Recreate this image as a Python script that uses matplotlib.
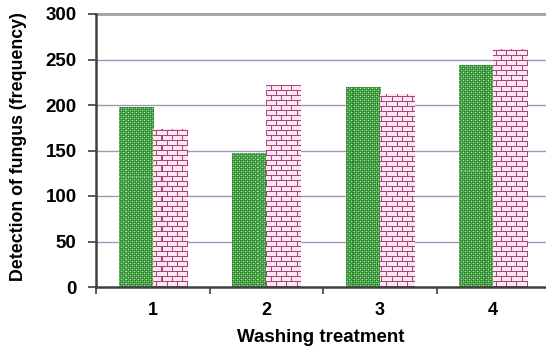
import numpy as np
import matplotlib
matplotlib.use("Agg")
import matplotlib.pyplot as plt
from matplotlib.ticker import FixedLocator, NullFormatter

# data
treatments = ["1", "2", "3", "4"]
series_a = [198, 147, 220, 244]   # green, dotted
series_b = [174, 222, 212, 262]   # pink, brick
y_ticks = [0, 50, 100, 150, 200, 250, 300]

plt.rcParams["font.family"] = ["Liberation Sans", "DejaVu Sans"]
plt.rcParams["font.weight"] = "bold"

W, H = 546, 349
fig = plt.figure(figsize=(W / 100, H / 100), dpi=100)
ax_l, ax_r, ax_t, ax_b = 96, 546, 14, 287
ax = fig.add_axes([ax_l / W, (H - ax_b) / H, (ax_r - ax_l) / W, (ax_b - ax_t) / H])

cat_px = 113.5
xlim = (0.5, 0.5 + (ax_r - ax_l) / cat_px)
ylim = (0, 300)
ax.set_xlim(*xlim)
ax.set_ylim(*ylim)

# textures in axes pixel space
pw, ph = ax_r - ax_l, ax_b - ax_t
yy, xx = np.mgrid[0:ph, 0:pw]

# green dotted texture
green = np.zeros((ph, pw, 3))
dark = np.array([0x2a, 0x7a, 0x2a]) / 255
mid = np.array([0x50, 0xa8, 0x50]) / 255
light = np.array([0x96, 0xd6, 0x96]) / 255
green[:] = mid
green[((xx + yy) % 2 == 0) & (yy % 2 == 0)] = dark
green[((xx % 4) == 1) & ((yy % 4) == 1)] = light
green[((xx % 4) == 3) & ((yy % 4) == 3)] = light

# brick texture
brick = np.zeros((ph, pw, 3))
face = np.array([0xfd, 0xe6, 0xf2]) / 255
line = np.array([0xa0, 0x48, 0x78]) / 255
brick[:] = face
row = (ph - 1 - yy) // 5
brick[(ph - 1 - yy) % 5 == 0] = line
shift = (row % 2) * 5
brick[((xx + shift) % 10 == 0)] = line

width = 0.3
x = np.arange(1, len(treatments) + 1)
bars_a = ax.bar(x - width / 2, series_a, width, color="none", edgecolor="none", zorder=3)
bars_b = ax.bar(x + width / 2, series_b, width, color="none", edgecolor="none", zorder=3)

for bars, tex in [(bars_a, green), (bars_b, brick)]:
    for b in bars:
        im = ax.imshow(tex, extent=(xlim[0], xlim[1], ylim[0], ylim[1]),
                       origin="upper", aspect="auto", interpolation="nearest", zorder=3)
        im.set_clip_path(b)

ax.set_xlim(*xlim)
ax.set_ylim(*ylim)

# grid
for v in y_ticks[1:-1]:
    ax.axhline(v, color="#9a9ab8", lw=1.0, zorder=1)
ax.axhline(300, color="#a0a0a0", lw=2.0, zorder=1, clip_on=False)

for s in ["top", "right"]:
    ax.spines[s].set_visible(False)
ax.spines["left"].set_color("#404040")
ax.spines["left"].set_linewidth(1.8)
ax.spines["bottom"].set_color("#404040")
ax.spines["bottom"].set_linewidth(1.8)
ax.spines["left"].set_zorder(5)
ax.spines["bottom"].set_zorder(5)

ax.set_yticks(y_ticks)
ax.tick_params(axis="y", length=6, width=1.2, color="#404040", labelsize=13.5, pad=8)
ax.set_yticklabels([str(v) for v in y_ticks], fontweight="bold")

ax.xaxis.set_major_locator(FixedLocator([0.5, 1.5, 2.5, 3.5, 4.5]))
ax.xaxis.set_major_formatter(NullFormatter())
ax.xaxis.set_minor_locator(FixedLocator(x))
ax.set_xticklabels(treatments, minor=True, fontweight="bold")
ax.tick_params(axis="x", which="major", length=5, width=1.2, color="#404040")
ax.tick_params(axis="x", which="minor", length=0, labelsize=13, pad=11)

ax.set_xlabel("Washing treatment", fontsize=13.5, fontweight="bold")
ax.set_ylabel("Detection of fungus (frequency)", fontsize=12.8, fontweight="bold")
ax.xaxis.set_label_coords((321 - ax_l) / (ax_r - ax_l), -(329 - ax_b) / (ax_b - ax_t))
ax.yaxis.set_label_coords(-(ax_l - 27) / (ax_r - ax_l), 0.515)

fig.savefig("out.png", dpi=100)
